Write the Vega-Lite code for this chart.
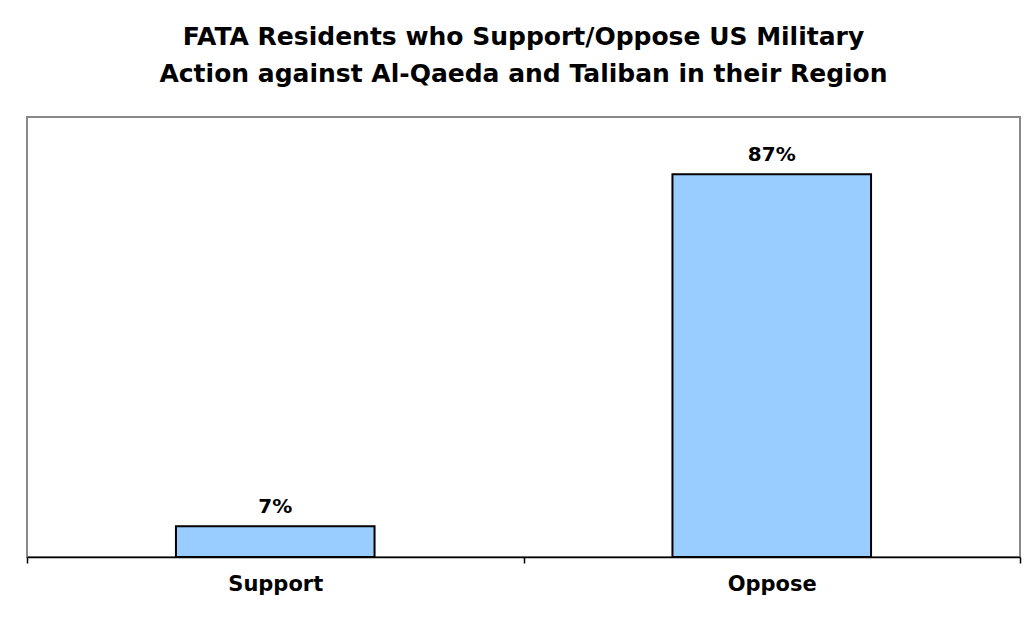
{
  "$schema": "https://vega.github.io/schema/vega-lite/v6.json",
  "autosize": {"type": "none"},
  "width": 993,
  "height": 440,
  "padding": {"left": 27, "top": 117, "right": 10, "bottom": 60},
  "background": "white",
  "title": {
    "text": ["FATA Residents who Support/Oppose US Military", "Action against Al-Qaeda and Taliban in their Region"],
    "font": "DejaVu Sans",
    "fontSize": 25,
    "fontWeight": "bold",
    "color": "#000000",
    "anchor": "middle",
    "lineHeight": 37,
    "offset": 30
  },
  "config": {
    "view": {"stroke": "#888888", "strokeWidth": 2}
  },
  "data": {
    "values": [
      {"response": "Support", "pct": 7, "label": "7%"},
      {"response": "Oppose", "pct": 87, "label": "87%"}
    ]
  },
  "encoding": {
    "x": {
      "field": "response",
      "type": "nominal",
      "sort": ["Support", "Oppose"],
      "scale": {"paddingInner": 0, "paddingOuter": 0},
      "axis": {
        "title": null,
        "labelAngle": 0,
        "labelFont": "DejaVu Sans",
        "labelFontSize": 21,
        "labelFontWeight": "bold",
        "labelColor": "#000000",
        "labelPadding": 10,
        "tickBand": "extent",
        "tickColor": "#000000",
        "tickSize": 6,
        "tickWidth": 1.5,
        "domainColor": "#000000",
        "domainWidth": 1.5,
        "zindex": 1
      }
    },
    "y": {
      "field": "pct",
      "type": "quantitative",
      "scale": {"domain": [0, 100], "nice": false},
      "axis": null
    }
  },
  "layer": [
    {
      "mark": {"type": "bar", "width": {"band": 0.4}, "fill": "#99CCFF", "stroke": "#000000", "strokeWidth": 2}
    },
    {
      "mark": {"type": "text", "baseline": "alphabetic", "dy": -13, "font": "DejaVu Sans", "fontSize": 20, "fontWeight": "bold", "color": "#000000"},
      "encoding": {"text": {"field": "label"}}
    }
  ]
}
